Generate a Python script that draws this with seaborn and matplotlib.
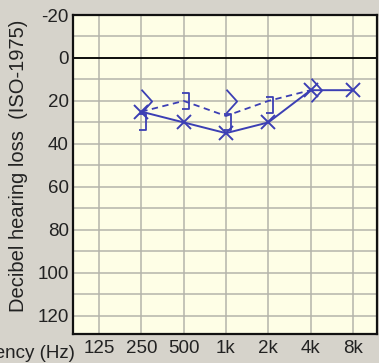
import numpy as np
import matplotlib
matplotlib.use("Agg")
import matplotlib.pyplot as plt
from matplotlib.path import Path
import seaborn as sns

# data #
freqs = [125, 250, 500, 1000, 2000, 4000, 8000]
freq_labels = ["125", "250", "500", "1k", "2k", "4k", "8k"]

air_freq = [250, 500, 1000, 2000, 4000, 8000]
air_db = [25, 30, 35, 30, 15, 15]

bone_line_freq = [250, 500, 1000, 2000, 4000]
bone_line_db = [25, 20, 27, 20, 15]

bone_unmasked_freq = [250, 1000, 4000]
bone_unmasked_db = [20, 20, 15]

bone_masked_freq = [250, 500, 1000, 2000]
bone_masked_db = [30, 20, 30, 22]

y_ticks = [-20, 0, 20, 40, 60, 80, 100, 120]

# colours #
blue = "#3c3fb4"
fig_bg = "#d6d3cb"
plot_bg = "#fefee6"
grid_col = "#b4b4aa"
text_col = "#222222"

font = ["Liberation Sans", "DejaVu Sans"]

sns.set_style("white")
plt.rcParams["font.family"] = font
plt.rcParams["axes.unicode_minus"] = False

fig = plt.figure(figsize=(3.79, 3.63), dpi=100, facecolor=fig_bg)
ax = fig.add_axes([73/379, 1-334/363, (377-73)/379, (334-15)/363])
ax.set_facecolor(plot_bg)
ax.set_xscale("log", base=2)

# marker shapes #
gt_marker = Path([(0, 1), (0.9, 0), (0, -1)], [Path.MOVETO, Path.LINETO, Path.LINETO])
br_marker = Path([(-0.2, 1), (0.6, 1), (0.6, -1), (-0.2, -1)],
                 [Path.MOVETO, Path.LINETO, Path.LINETO, Path.LINETO])

# grid #
for f in freqs:
    ax.axvline(f, color=grid_col, lw=1.1, zorder=0)
for d in range(-10, 130, 10):
    ax.axhline(d, color=grid_col, lw=1.1, zorder=0)
ax.axhline(0, color="black", lw=1.3, zorder=1)

sns.lineplot(x=bone_line_freq, y=bone_line_db, ax=ax, color=blue, lw=1.3,
             linestyle=(0, (3.5, 2.5)), zorder=3)
sns.lineplot(x=air_freq, y=air_db, ax=ax, color=blue, lw=1.4, marker="x",
             markersize=10, markeredgewidth=1.4, markeredgecolor=blue, zorder=4)
sns.lineplot(x=bone_unmasked_freq, y=bone_unmasked_db, ax=ax, color=blue, linestyle="",
             marker=gt_marker, markersize=17, markerfacecolor="none",
             markeredgecolor=blue, markeredgewidth=1.3, zorder=5)
sns.lineplot(x=bone_masked_freq, y=bone_masked_db, ax=ax, color=blue, linestyle="",
             marker=br_marker, markersize=12, markerfacecolor="none",
             markeredgecolor=blue, markeredgewidth=1.3, zorder=5)

ax.set_xlim(125 * 2 ** -0.614, 8000 * 2 ** 0.567)
ax.set_ylim(128.5, -20)
ax.set_xticks(freqs)
ax.set_xticklabels(freq_labels)
ax.minorticks_off()
ax.set_yticks(y_ticks)
ax.tick_params(axis="both", length=0, labelsize=13.5, labelcolor=text_col)
ax.tick_params(axis="y", pad=3)
ax.tick_params(axis="x", pad=4)
ax.set_xlabel("")
ax.set_ylabel("")

for side in ["left", "bottom", "top", "right"]:
    ax.spines[side].set_visible(True)
    ax.spines[side].set_color("#111111")
    ax.spines[side].set_linewidth(1.6)

fig.text(19/379, 1-166/363, "Decibel hearing loss  (ISO-1975)", rotation=90,
         ha="center", va="center", fontsize=14.5, color=text_col)
fig.text(75/379, 1-354/363, "Frequency (Hz)", ha="right", va="center",
         fontsize=13.5, color=text_col)

fig.savefig("out.png", dpi=100, facecolor=fig_bg)
